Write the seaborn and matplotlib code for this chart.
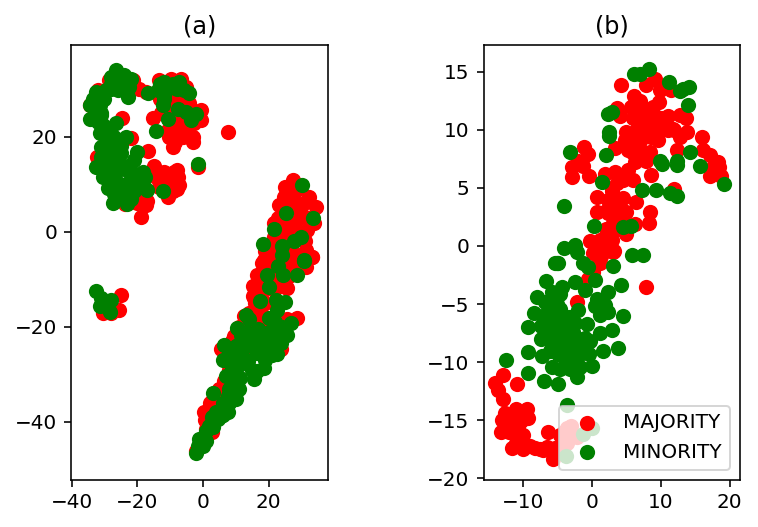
import matplotlib
matplotlib.use("Agg")
import matplotlib.pyplot as plt
import seaborn as sns

# panel (a), values
a_major_x = [-32.0, -34.5, -19.4, -21.4, -28.5, -24.6, -21.9, -32.2, -16.6, -14.8, -18.8, -17.3, -18.8, -23.7, -20.2,
             -9.7, -6.7, -13.3, -17.3, -4.2, -5.2, -0.6, -15.3, -0.6, -12.8, -8.2, -4.6, -10.7, -7.7, -3.1, -9.0, -10.2, -6.2, -2.6, 7.5, -1.6,
             -8.7, -11.8, -14.3, -7.2, -10.7, -13.3, -9.7, -7.7, -12.3, -9.2,
             27.3, 24.9, 32.3, 34.3, 23.2, 27.8, 30.8, 26.7, 24.7, 29.8, 33.8, 21.7, 25.7, 21.7, 25.7, 31.8,
             18.6, 22.7, 27.8, 33.3, 31.3, 33.3, 31.5, 18.1, 16.6, 15.2, 15.1, 25.7, 21.7, 16.6, 15.6, 20.7, 25.7, 21.7, 26.2, 18.6, 23.7,
             12.6, 28.8, 25.7, 9.5, 5.5, 23.7, 17.8, 15.6, 14.1, 12.6, 6.5, 2.9, 1.9, 2.9, 0.9, -2.1, 0.4,
             -24.9, -25.7, -30.5, -28.0,
             29.0, 27.0, 30.0, 32.0, 28.0, 25.0, 23.0, 24.0, 28.0, 31.0, 27.0, 22.0, 19.0, 24.0, 29.0, 22.0, 18.0, 24.0, 20.0, 17.0,
             19.0, 22.0, 16.0, 14.0, 19.0, 17.0, 14.0, 11.0, 9.0, 7.0, 12.0, 8.0, 9.0, 5.0, 6.0, 4.0, 3.0, 1.0, 0.0, -1.0,
             -8.0, -6.0, -9.0, -4.0, -7.0, -11.0, -13.0, -10.0, -5.0, -9.0, -6.0, -3.0,
             -11.0, -9.0, -12.0, -8.0, -10.0, -13.0, -8.0, -11.0, -20.0, -19.0, -17.0,
             2.0, 0.5, 3.5, -6.5, -10.5, -8.5]
a_major_y = [29.8, 26.6, 30.1, 31.9, 31.9, 24.0, 19.8, 15.8, 17.1, 13.8, 10.9, 5.7, 3.2, 5.9, 7.4,
             32.2, 32.2, 31.9, 29.4, 27.0, 30.5, 25.6, 24.0, 23.6, 24.9, 23.5, 22.1, 21.4, 21.7, 18.9, 17.9, 20.0, 20.0, 22.8, 20.9, 13.6,
             12.6, 12.6, 11.6, 9.9, 7.4, 9.5, 10.6, 11.6, 11.3, 8.5,
             10.9, 9.5, 7.4, 5.3, 5.7, 8.1, 6.0, 5.3, 7.4, 3.2, 1.8, 1.8, 2.2, -1.0, -0.3, 0.4,
             -5.9, -4.5, -4.5, -5.2, -3.8, -5.2, -7.3, -6.6, -9.0, -11.5, -13.6, -11.8, -12.2, -16.0, -13.9, -6.6, -6.6, -9.0, -9.3, -12.2, -11.5,
             -17.8, -18.1, -18.4, -22.0, -24.6, -24.7, -17.1, -18.4, -22.0, -24.7, -31.4, -35.6, -38.4, -42.2, -41.5, -46.1, -38.0,
             -13.2, -16.4, -17.1, -17.1,
             9.0, 7.0, 4.0, 3.0, 2.0, 4.0, 3.0, 0.0, 0.0, -2.0, -2.0, -3.0, -4.0, -6.0, -7.0, -8.0, -9.0, -10.0, -10.0, -12.0,
             -15.0, -15.0, -15.0, -17.0, -19.0, -20.0, -20.0, -20.0, -23.0, -25.0, -27.0, -29.0, -32.0, -33.0, -35.0, -37.0, -40.0, -43.0, -44.0, -45.0,
             28.0, 27.0, 26.0, 25.0, 24.0, 26.0, 28.0, 29.0, 23.0, 22.0, 21.0, 20.0,
             10.0, 10.0, 9.0, 9.0, 12.0, 12.0, 13.0, 8.5, 6.0, 8.0, 6.5,
             -36.0, -39.5, -34.0, 22.5, 24.0, 19.0]
a_minor_x = [-26.4, -28.0, -21.9, -24.9, -22.4, -28.0, -25.9, -22.9, -29.5, -32.5, -33.5, -34.5, -33.0, -34.5, -31.0, -31.5,
             -26.4, -30.5, -31.5, -28.5, -23.4, -25.9, -31.0, -28.0, -24.9, -20.1, -20.9, -31.0, -28.0, -32.5, -25.4, -30.5, -28.0,
             -18.3, -21.4, -17.8, -29.0, -25.9, -22.9, -19.4, -17.0, -27.5, -23.2, -23.9, -20.9, -26.4,
             -16.6, -13.8, -11.8, -9.2, -7.2, -5.7, -4.2, -11.8, -12.3, -7.5, -5.2, -2.1, -3.6, -10.5, -14.3, -1.4, -12.3,
             30.2, 25.4, 33.5, 21.7, 30.0, 27.8, 18.3, 24.0, 30.8,
             -32.5, -31.0, -28.0, -31.5, -30.0, -28.3,
             30.8, 28.8, 24.2, 23.0, 24.4, 19.4, 20.2, 17.4, 22.2, 24.9, 13.1, 14.1, 20.2, 22.7, 26.7, 25.7, 10.5, 11.6, 16.8,
             6.5, 11.0, 15.6, 18.6, 21.7, 23.7, 20.2, 22.7, 16.6, 9.0, 6.2, 8.5, 13.6, 18.6, 16.6, 7.0, 11.3, 15.6, 9.5, 3.1,
             10.0, 7.5, 6.5, 7.5, 4.5, 1.9, 5.5, 2.9, 0.4, -1.1, -0.1, -1.6, -2.1, 0.9,
             22.0, 24.0, 20.0, 18.0, 14.0, 13.0, 16.0, 23.0, 21.0, 19.0, 15.0, 12.0, 10.0, 8.0, 11.0, 9.0, 8.0, 11.0, 6.0, 8.0,
             4.0, 6.0, 3.0, 1.0, 0.0, -1.0, -0.5,
             -30.0, -31.0, -32.0, -28.0, -24.0, -29.0, -27.0, -30.0, -27.0, -25.0, -29.0, -26.0, -23.0, -28.0, -24.0, -22.0, -19.0,
             -27.0, -21.0, -18.0, -23.0, -13.0, -11.0, -12.0, -12.0, -8.0]
a_minor_y = [34.0, 32.6, 32.2, 31.9, 30.5, 31.2, 29.8, 28.4, 29.8, 29.4, 28.0, 26.6, 25.6, 23.8, 24.5, 26.6,
             22.8, 22.4, 20.7, 21.4, 20.0, 19.3, 17.9, 17.9, 16.5, 16.8, 15.1, 15.8, 15.1, 13.7, 14.4, 11.6, 12.3,
             12.6, 12.3, 11.6, 9.2, 10.2, 10.2, 10.2, 8.9, 6.0, 5.9, 8.1, 8.5, 7.8,
             29.1, 29.8, 31.5, 31.2, 31.5, 29.8, 29.1, 28.7, 26.6, 25.9, 25.2, 24.7, 23.6, 23.8, 21.2, 14.2, 8.5,
             9.8, 3.9, 2.9, 0.6, -1.0, -1.9, -2.5, -2.9, -5.9,
             -12.5, -13.9, -14.4, -15.7, -15.3, -16.9,
             -6.2, -9.0, -4.8, -7.1, -9.0, -9.0, -11.6, -14.5, -14.3, -14.8, -17.4, -18.3, -18.1, -16.4, -19.1, -21.6, -20.2, -21.6, -20.5,
             -23.9, -23.7, -24.0, -22.6, -21.9, -23.3, -24.7, -25.8, -25.4, -26.1, -27.0, -27.9, -27.2, -28.6, -29.3, -30.3, -30.7, -31.0, -32.8, -34.0,
             -35.1, -34.5, -36.6, -38.0, -39.4, -40.8, -38.7, -39.0, -43.2, -43.6, -45.0, -45.0, -46.5, -44.0,
             -19.0, -20.0, -21.0, -24.0, -23.0, -21.0, -22.0, -22.0, -26.0, -27.0, -29.0, -25.0, -24.0, -25.0, -28.0, -30.0, -33.0, -33.0, -36.0, -36.0,
             -38.0, -38.5, -41.0, -42.0, -43.5, -44.5, -44.0,
             28.0, 25.0, 23.0, 30.0, 33.0, 19.0, 20.0, 16.0, 16.0, 18.0, 14.0, 13.0, 13.0, 10.0, 8.0, 7.0, 12.0,
             8.0, 11.0, 9.5, 9.5, 31.0, 30.0, 30.0, 28.0, 30.0]

# panel (b)
b_major_x = [4.2, 9.1, 7.9, 9.9, 11.5, 6.1, 3.7, 4.1, 5.7, 7.4, 8.9, 9.8, 6.5, 7.9, 9.6, 11.1, 12.8, 13.7,
             5.0, 6.5, 7.9, 10.1, 11.8, 13.8, 16.0, 4.8, 6.5, 8.6, 9.6, 12.8, 3.3, 5.3, 7.0, 12.3, 16.1, -1.1, -0.5, 17.1,
             8.4, 7.4, 6.2, 7.9, -2.0, -1.2, -2.9, 18.3, 17.6, 18.5, -2.9, -0.4, 1.9, 3.3, 5.2, 8.6, 17.1, 18.8, 6.0, 3.6, 4.5,
             11.9, 2.9, 0.7, 4.5, 2.4, 6.4, 3.6, 0.7, 5.0, 8.4, 2.4, 3.8, 8.3, 6.2, 3.1, 5.0, 2.4, 3.3, -0.3, 1.2, 2.9, 3.2, 0.2, 1.6, 1.4,
             -12.8, -14.1, -13.6, -10.9, -12.8, -9.4, -12.6, -9.3, -11.4, -10.2, -13.1, -11.6, -10.0, -10.7, -11.5, -9.7, -8.3,
             -6.3, -7.1, -5.6, -5.4, -4.6, -3.6, -3.6, -2.2, -4.2, -2.2, -5.6, 0.0, -0.5, 0.9, 1.2, 0.2, 7.9, 3.1,
             7.0, 6.0, 8.0, 7.0, 6.0, 9.0, 10.0, 11.0, 8.0, 12.0, 3.0, 2.0, 4.0, 3.0, 2.0, 1.0, 2.0, 4.5,
             -13.0, -12.0, -11.0, -11.0, -10.0, -9.0, -7.5, -6.5, -5.0, -4.0, -3.0, -3.0]
b_major_y = [13.9, 14.4, 13.9, 13.4, 13.4, 12.9, 11.9, 11.2, 12.0, 11.8, 12.0, 12.4, 11.1, 11.0, 11.0, 11.2, 11.3, 11.0,
             9.8, 10.1, 10.2, 10.2, 10.1, 9.8, 9.4, 9.1, 9.2, 9.4, 9.1, 9.4, 8.4, 8.3, 8.3, 8.3, 8.3, 8.5, 7.9, 7.8,
             8.1, 7.5, 7.2, 7.3, 7.3, 6.9, 6.8, 7.2, 6.8, 6.8, 5.9, 6.0, 6.2, 6.4, 6.5, 6.1, 6.0, 6.0, 5.7, 5.4, 5.7,
             4.9, 4.7, 4.2, 4.1, 4.0, 3.8, 3.7, 2.9, 2.9, 2.9, 2.8, 2.8, 2.0, 1.9, 2.0, 1.0, 1.1, 1.4, 0.4, 0.5, 0.5, -0.4, -0.6, -0.5, -0.9,
             -11.1, -11.8, -12.4, -11.9, -13.2, -14.0, -14.4, -14.8, -14.8, -15.1, -16.0, -15.7, -16.3, -15.7, -17.4, -17.1, -17.4,
             -16.0, -17.6, -18.3, -17.4, -16.3, -15.7, -17.0, -16.4, -17.7, -4.8, -7.1, -2.8, -2.8, -0.9, -1.5, -2.2, -3.5, -0.5,
             12.5, 11.0, 10.0, 9.0, 8.0, 10.5, 11.0, 10.0, 11.5, 10.0, 4.0, 3.0, 3.0, 5.0, 1.5, 0.0, -0.3, 2.0,
             -15.0, -16.0, -14.0, -17.0, -17.5, -17.2, -17.5, -17.3, -17.5, -16.0, -16.0, -15.5]
b_minor_x = [8.3, 6.1, 7.0, 11.2, 14.1, 13.3, 12.8, 14.0, 2.4, 2.9, 2.5, 2.5, -3.1, 2.0, 14.3, 9.9, 10.2, 12.3, 12.3, 15.7, 19.2, 1.5,
             7.3, 9.3, 11.4, 12.4, -4.0, 0.3, 4.5, 5.7, -4.0, -2.4, -2.1, 5.8, 7.4, -5.0, -1.3,
             -4.9, -5.4, -0.5, 3.1, 0.4, -6.7, -4.3, -2.4, -1.0, 4.3, 2.4, -5.7, -8.0, -6.8, -4.6, 0.8, -2.0, 0.4, 1.9, 1.2, 2.4, 4.5,
             -8.4, -6.3, -4.6, -5.1, -3.2, -9.3, -7.3, -5.8, -3.9, -2.5, -0.7, 1.2, 2.9, -7.3, -5.6, -4.2, -2.7, -1.0, -0.3,
             -5.8, -4.2, -2.5, -1.3, -9.3, -7.2, -4.9, -3.2, -0.4, 1.6, 3.8, -12.4, -5.8, -4.6, -3.2, -1.7, 0.0, -9.3, -6.9, -4.9, -2.1,
             -3.6, -1.3, -3.8, 0.0,
             -6.0, -5.0, -4.0, -6.5, -5.0, -3.0, -2.0, -6.0, -4.0, -3.0, -7.0, -2.0, -3.0, -5.0]
b_minor_y = [15.2, 14.8, 14.8, 14.1, 13.7, 13.5, 13.3, 12.1, 11.4, 11.5, 9.8, 9.5, 8.1, 7.8, 8.1, 7.3, 7.1, 7.3, 7.0, 6.9, 5.3, 5.5,
             4.8, 4.8, 4.6, 4.3, 3.4, 1.7, 1.6, 1.7, -0.2, 0.1, -0.5, -0.8, -0.8, -1.5, -1.5,
             -1.5, -1.5, -1.8, -1.7, -2.9, -3.0, -3.5, -3.1, -3.8, -3.4, -4.0, -4.0, -4.4, -4.8, -4.1, -4.6, -5.5, -5.2, -5.1, -5.9, -5.7, -6.0,
             -5.8, -5.6, -5.4, -6.1, -6.1, -7.0, -6.9, -6.7, -6.9, -6.6, -6.7, -7.5, -7.2, -8.0, -7.7, -7.6, -7.4, -7.9, -8.2,
             -8.6, -8.5, -8.8, -8.6, -9.1, -9.5, -9.3, -9.2, -9.3, -9.0, -8.8, -9.8, -10.4, -10.6, -10.6, -10.4, -10.3, -10.9, -11.6, -11.9, -11.3,
             -13.7, -16.2, -18.1, -15.7,
             -5.0, -5.0, -6.0, -7.5, -7.0, -8.0, -8.0, -9.0, -9.5, -7.0, -6.0, -9.5, -10.0, -8.5]

W, H = 758, 527

fig = plt.figure(figsize=(W / 144, H / 144), dpi=144)
ax1 = fig.add_axes([71 / W, (H - 479.5) / H, 257 / W, 434.5 / H])
ax2 = fig.add_axes([483.5 / W, (H - 479.5) / H, 256.5 / W, 434.5 / H])


def draw(ax, mx, my, nx, ny):
    sns.scatterplot(x=mx, y=my, color="red", linewidth=0, s=58, label="MAJORITY", ax=ax, legend=False)
    sns.scatterplot(x=nx, y=ny, color="green", linewidth=0, s=58, label="MINORITY", ax=ax, legend=False)


draw(ax1, a_major_x, a_major_y, a_minor_x, a_minor_y)
ax1.set_xlim(-40.2, 38.1)
ax1.set_ylim(-52.1, 39.3)
ax1.set_xticks([-40, -20, 0, 20])
ax1.set_yticks([-40, -20, 0, 20])
ax1.set_title("(a)")

draw(ax2, b_major_x, b_major_y, b_minor_x, b_minor_y)
ax2.set_xlim(-15.7, 21.5)
ax2.set_ylim(-20.1, 17.3)
ax2.set_xticks([-10, 0, 10, 20])
ax2.set_yticks([-20, -15, -10, -5, 0, 5, 10, 15])
ax2.set_title("(b)")
ax2.legend(loc="lower right")

fig.savefig("out.png", dpi=144)
